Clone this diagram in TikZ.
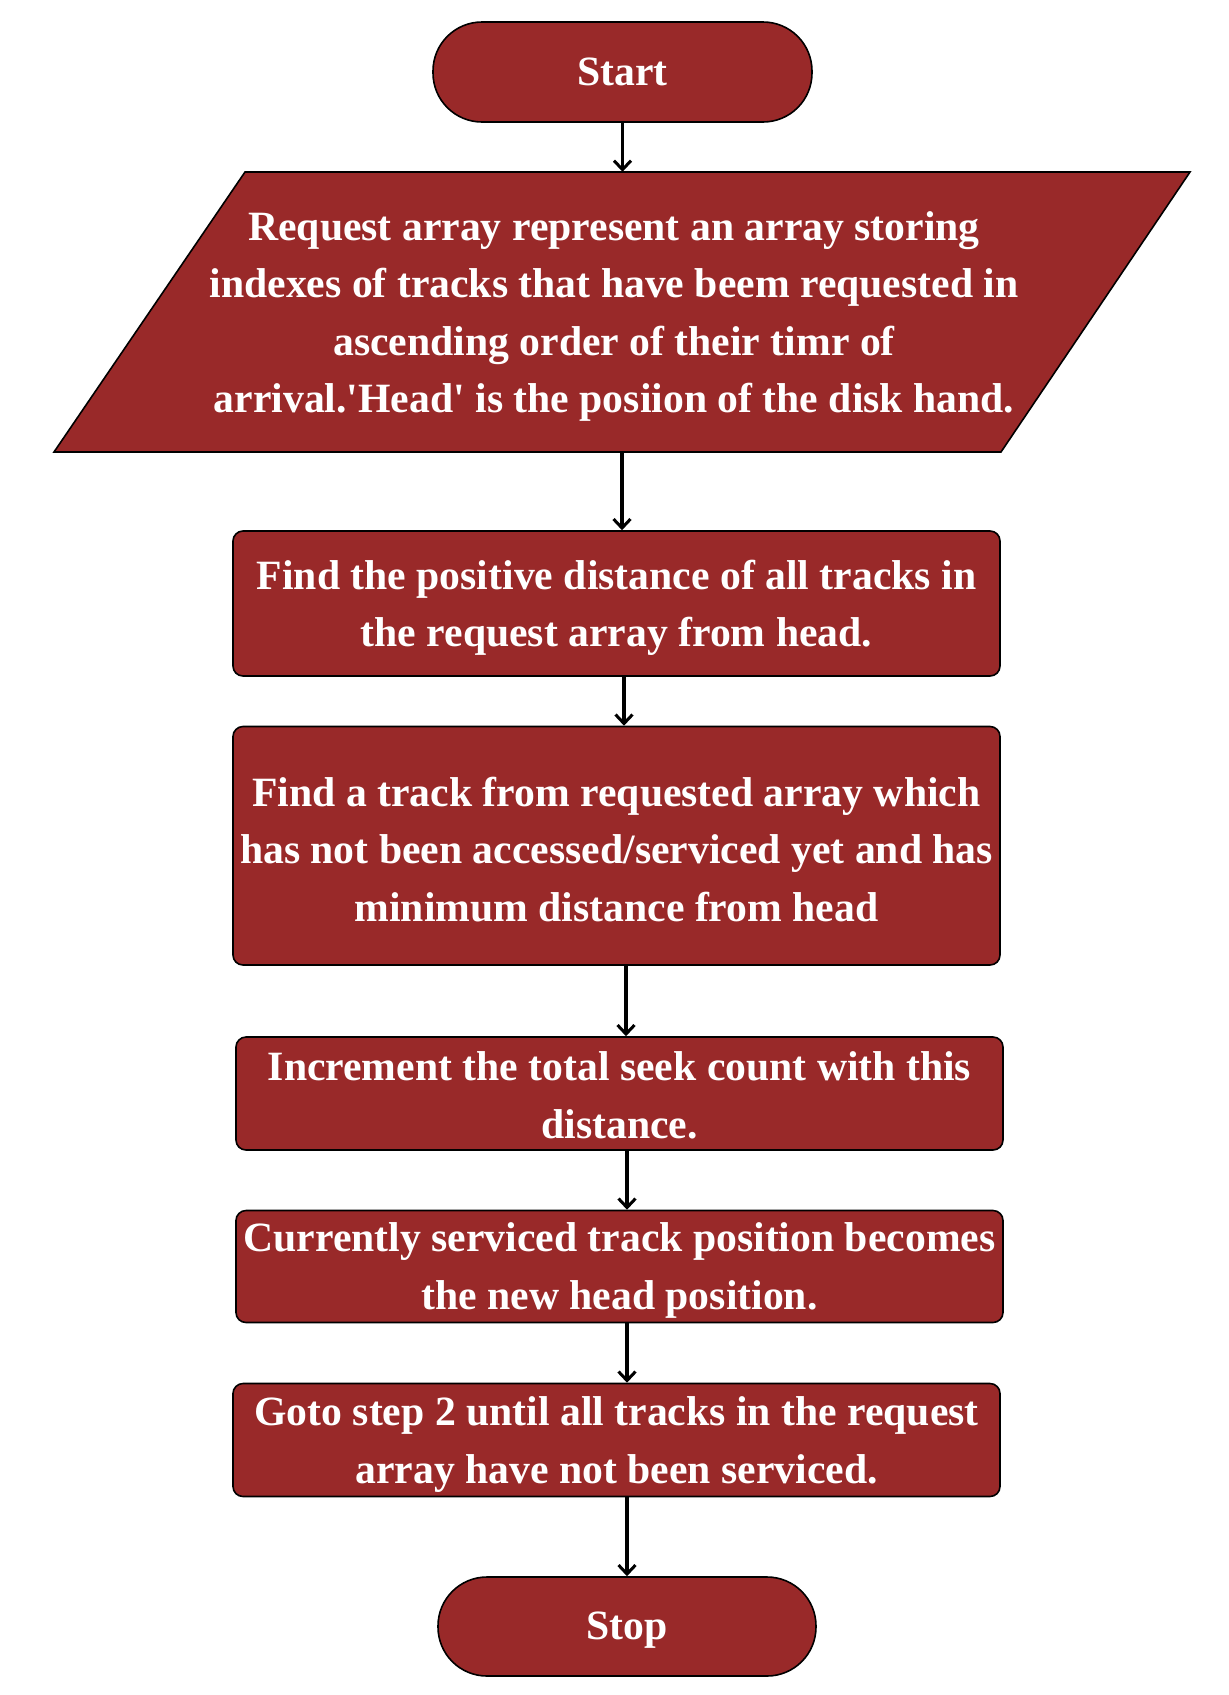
\documentclass[tikz,border=0pt]{standalone}
\usepackage{fontspec}
\setmainfont{Liberation Serif}
\usetikzlibrary{arrows.meta}
\definecolor{boxred}{RGB}{153,41,41}
\tikzset{
  lbl/.style={text=white, font=\fontsize{41.7pt}{57.5pt}\selectfont\bfseries, align=center, inner sep=0pt},
  procbox/.style={draw=black, line width=1.6pt, fill=boxred, rounded corners=10pt, minimum width=767pt, inner sep=0pt},
  termbox/.style={draw=black, line width=1.6pt, fill=boxred, rounded corners=49pt, inner sep=0pt},
  arr/.style={line width=3.2pt, -{Straight Barb[length=9pt,width=17pt,line width=3pt]}}
}
\begin{document}
\begin{tikzpicture}[x=1pt,y=-1pt]
\useasboundingbox[fill=white] (0,0) rectangle (1229,1695);
% terminals
\node[termbox, minimum width=379pt, minimum height=100pt] (start) at (622.5,72) {};
\node[lbl] (startt) at (start.center) {Start};
\node[termbox, minimum width=378pt, minimum height=99pt] (stop) at (627,1626.5) {};
\node[lbl] (stopt) at ([yshift=-4pt]stop.center) {Stop};
% parallelogram
\coordinate (p1) at (245,172);
\coordinate (p2) at (1190,172);
\coordinate (p3) at (1001,452);
\coordinate (p4) at (54,452);
\draw[fill=boxred, line width=1.6pt, line join=miter] (p1) -- (p2) -- (p3) -- (p4) -- cycle;
\node[inner sep=0pt, minimum width=10pt, minimum height=280pt] (para) at (622,312) {};
\node[lbl] (parat) at ([xshift=-8pt,yshift=-4.5pt]para.center) {Request array represent an array storing\\indexes of tracks that have beem requested in\\ascending order of their timr of\\arrival.\textquotesingle Head\textquotesingle{} is the posiion of the disk hand.};
% process boxes
\node[procbox, minimum height=145pt] (b1) at (616.5,603.5) {};
\node[lbl] (b1t) at ([yshift=-4.5pt]b1.center) {Find the positive distance of all tracks in\\the request array from head.};
\node[procbox, minimum height=238.5pt] (b2) at (616.5,845.75) {};
\node[lbl] (b2t) at ([yshift=-3.5pt]b2.center) {Find a track from requested array which\\has not been accessed/serviced yet and has\\minimum distance from head};
\node[procbox, minimum height=113pt] (b3) at (619.5,1093.5) {};
\node[lbl] (b3t) at ([yshift=-2pt]b3.center) {Increment the total seek count with this\\distance.};
\node[procbox, minimum height=112pt] (b4) at (619.5,1266.5) {};
\node[lbl] (b4t) at ([yshift=-4pt]b4.center) {Currently serviced track position becomes\\the new head position.};
\node[procbox, minimum height=113pt] (b5) at (616.5,1440) {};
\node[lbl] (b5t) at ([yshift=-4.5pt]b5.center) {Goto step 2 until all tracks in the request\\array have not been serviced.};
% connector x positions
\coordinate (xa) at (622.5,0);
\coordinate (xb) at (622,0);
\coordinate (xc) at (624,0);
\coordinate (xd) at (626,0);
\coordinate (xe) at (627,0);
\draw[arr] (start.south -| xa) -- (para.north -| xa);
\draw[arr] (para.south -| xb) -- (b1.north -| xb);
\draw[arr] (b1.south -| xc) -- (b2.north -| xc);
\draw[arr] (b2.south -| xd) -- (b3.north -| xd);
\draw[arr] (b3.south -| xe) -- (b4.north -| xe);
\draw[arr] (b4.south -| xe) -- (b5.north -| xe);
\draw[arr] (b5.south -| xe) -- (stop.north -| xe);
\end{tikzpicture}
\end{document}
